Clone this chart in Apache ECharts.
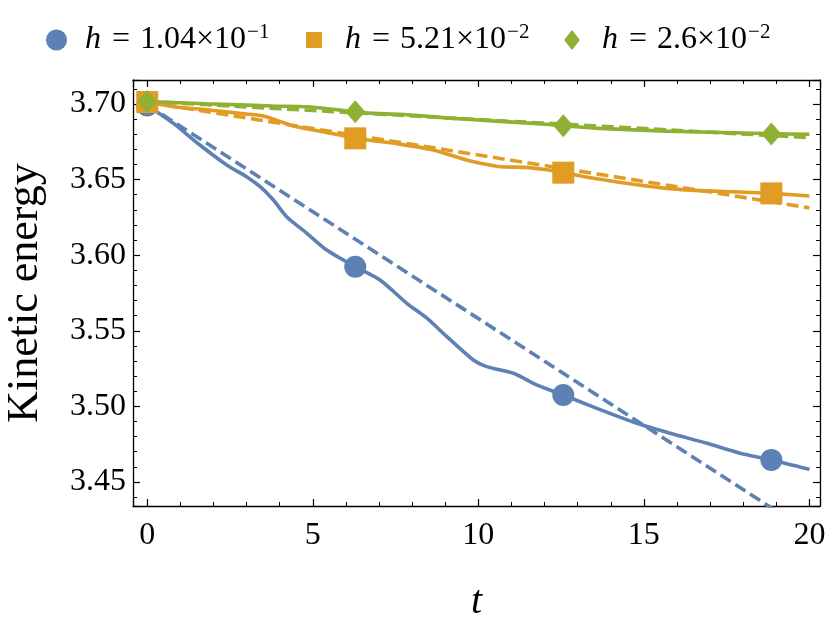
<!DOCTYPE html>
<html><head><meta charset="utf-8">
<script src="https://cdn.jsdelivr.net/npm/echarts@6/dist/echarts.min.js"></script>
<style>html,body{margin:0;padding:0;background:#fff}#c{width:830px;height:634px}</style>
</head><body><div id="c"></div>
<script>
// ---- data ----
const markerT = [0, 6.283, 12.566, 18.85];

const blueT = [0, 0.79, 1.59, 2.40, 3.00, 3.41, 3.81, 4.21, 4.82, 5.42, 6.28, 7.03, 7.84, 8.44, 9.05, 9.85, 10.25, 11.06, 11.76, 12.57, 13.58, 14.79, 15.79, 16.90, 17.91, 18.85, 20.0];
const blueE = [3.699, 3.6872, 3.6729, 3.6597, 3.6519, 3.6453, 3.6365, 3.6255, 3.6145, 3.6034, 3.5924, 3.5836, 3.5682, 3.5585, 3.5461, 3.5307, 3.5263, 3.5219, 3.5142, 3.5075, 3.4987, 3.4888, 3.4822, 3.4756, 3.4690, 3.4646, 3.4584];
const blueMarkE = [3.699, 3.5924, 3.5075, 3.4646];
const blueDashT = [0, 20];
const blueDashE = [3.6995, 3.4167];

const orangeT = [0, 0.79, 1.79, 2.80, 3.50, 4.01, 4.41, 5.02, 5.82, 6.28, 6.83, 7.63, 8.64, 9.65, 10.26, 10.66, 11.46, 11.96, 12.57, 13.68, 14.68, 15.69, 16.70, 17.70, 18.85, 20.0];
const orangeE = [3.7015, 3.6982, 3.6962, 3.6938, 3.6921, 3.6885, 3.6855, 3.6828, 3.6795, 3.6773, 3.6757, 3.6735, 3.6696, 3.6630, 3.6600, 3.6585, 3.6581, 3.6568, 3.6546, 3.6502, 3.6469, 3.6442, 3.6427, 3.6420, 3.6409, 3.6392];
const orangeMarkE = [3.7013, 3.6773, 3.6546, 3.6409];
const orangeDashT = [0, 20];
const orangeDashE = [3.7013, 3.6313];

const greenT = [0, 1.8, 3.8, 4.82, 5.82, 6.28, 6.83, 7.63, 8.84, 9.65, 11.66, 12.57, 13.68, 15.69, 17.70, 18.85, 20.0];
const greenE = [3.7017, 3.7002, 3.6987, 3.6982, 3.6960, 3.6949, 3.6938, 3.6932, 3.6912, 3.6899, 3.6872, 3.6857, 3.6839, 3.6821, 3.6810, 3.6804, 3.6800];
const greenMarkE = [3.7017, 3.6949, 3.6857, 3.6802];
const greenDashT = [0, 20];
const greenDashE = [3.7017, 3.6778];

const legendNames = ['h1', 'h2', 'h3'];
const legendMantissa = ['1.04', '5.21', '2.6'];
const legendExponent = ['\u22121', '\u22122', '\u22122'];

const xName = 't';
const yName = 'Kinetic energy';

// ---- styling ----
const C = ['#5E81B5', '#E19C24', '#8FB032'];
const FONT = 'Liberation Serif';
const zip = (a, b) => a.map((v, i) => [v, b[i]]);

const X = { min: -0.43, max: 20.32 };
const Y = { min: 3.4341, max: 3.7159 };

function lineSeries(t, e, color, dashed) {
  return {
    type: 'line', data: zip(t, e), symbol: 'none', smooth: dashed ? false : 0.25,
    lineStyle: { color, width: 3.6, type: dashed ? [12, 5.5] : 'solid', cap: 'butt' },
    clip: true, silent: true, z: 2
  };
}
function markSeries(name, e, color, symbol, size) {
  return {
    type: 'scatter', name, data: zip(markerT, e), symbol, symbolSize: size,
    itemStyle: { color, opacity: 1 }, clip: false, silent: true, z: 3
  };
}

const commonAxisLine = { show: true, onZero: false, lineStyle: { color: '#000', width: 1.3 } };

const legendIcons = ['circle', 'rect', 'diamond'];
const legendLeft = [46, 306, 564];
const legendSize = [[21, 21], [16, 16], [16, 20]];
const legendPadText = [13, 18, 17];

function legendTextStyle(i) {
  return {
    color: '#000', fontFamily: FONT, fontSize: 32,
    rich: {
      i: { fontFamily: FONT, fontStyle: 'italic', fontSize: 32, color: '#000', lineHeight: 40, padding: [0, 0, 0, legendPadText[i]] },
      e: { fontFamily: FONT, fontSize: 32, color: '#000', lineHeight: 40, padding: [0, 10, 0, 11] },
      n: { fontFamily: FONT, fontSize: 32, color: '#000', lineHeight: 40 },
      s: { fontFamily: FONT, fontSize: 21, color: '#000', padding: [0, 0, 15, 1] }
    }
  };
}
const legendFormatter = (n) => {
  const i = legendNames.indexOf(n);
  return '{i|h}{e|=}{n|' + legendMantissa[i] + '\u00d710}{s|' + legendExponent[i] + '}';
};

const option = {
  animation: false,
  backgroundColor: '#fff',
  grid: { left: 133, right: 10, top: 80, bottom: 128, containLabel: false, outerBoundsMode: 'none' },
  legend: legendNames.map((n, i) => ({
    data: [{ name: n, icon: legendIcons[i] }],
    left: legendLeft[i], top: 22, padding: 0,
    itemWidth: legendSize[i][0], itemHeight: legendSize[i][1],
    formatter: legendFormatter,
    textStyle: legendTextStyle(i),
    selectedMode: false
  })),
  xAxis: [
    {
      type: 'value', min: X.min, max: X.max, splitNumber: 5, position: 'bottom',
      name: xName, nameLocation: 'middle', nameGap: 76,
      nameTextStyle: { fontFamily: FONT, fontStyle: 'italic', fontSize: 40, color: '#000' },
      axisLine: commonAxisLine,
      axisTick: { show: true, inside: true, length: 7, lineStyle: { color: '#000', width: 1.2 } },
      minorTick: { show: true, splitNumber: 5, length: 4, lineStyle: { color: '#000', width: 1 } },
      axisLabel: { showMinLabel: false, showMaxLabel: false, margin: 14, fontFamily: FONT, fontSize: 32, color: '#000' },
      splitLine: { show: false }
    },
    {
      type: 'value', min: X.min, max: X.max, splitNumber: 5, position: 'top',
      axisLine: commonAxisLine,
      axisTick: { show: true, inside: true, length: 7, lineStyle: { color: '#000', width: 1.2 } },
      minorTick: { show: true, splitNumber: 5, length: 4, lineStyle: { color: '#000', width: 1 } },
      axisLabel: { show: false }, splitLine: { show: false }
    }
  ],
  yAxis: [
    {
      type: 'value', min: Y.min, max: Y.max, splitNumber: 5, position: 'left',
      name: yName, nameLocation: 'middle', nameGap: 86, nameRotate: 90,
      nameTextStyle: { fontFamily: FONT, fontSize: 44, color: '#000' },
      axisLine: commonAxisLine,
      axisTick: { show: true, inside: true, length: 7, lineStyle: { color: '#000', width: 1.2 } },
      minorTick: { show: true, splitNumber: 5, length: 4, lineStyle: { color: '#000', width: 1 } },
      axisLabel: { showMinLabel: false, showMaxLabel: false, margin: 7, fontFamily: FONT, fontSize: 32, color: '#000',
        padding: [8, 0, 0, 0], formatter: (v) => v.toFixed(2) },
      splitLine: { show: false }
    },
    {
      type: 'value', min: Y.min, max: Y.max, splitNumber: 5, position: 'right',
      axisLine: commonAxisLine,
      axisTick: { show: true, inside: true, length: 7, lineStyle: { color: '#000', width: 1.2 } },
      minorTick: { show: true, splitNumber: 5, length: 4, lineStyle: { color: '#000', width: 1 } },
      axisLabel: { show: false }, splitLine: { show: false }
    }
  ],
  series: [
    lineSeries(blueT, blueE, C[0], false),
    lineSeries(blueDashT, blueDashE, C[0], true),
    markSeries(legendNames[0], blueMarkE, C[0], 'circle', 22),
    lineSeries(orangeT, orangeE, C[1], false),
    lineSeries(orangeDashT, orangeDashE, C[1], true),
    markSeries(legendNames[1], orangeMarkE, C[1], 'rect', 22),
    lineSeries(greenT, greenE, C[2], false),
    lineSeries(greenDashT, greenDashE, C[2], true),
    markSeries(legendNames[2], greenMarkE, C[2], 'diamond', [20, 23])
  ]
};

const chart = echarts.init(document.getElementById('c'), null, { renderer: 'canvas' });
chart.setOption(option);
</script>
</body></html>
